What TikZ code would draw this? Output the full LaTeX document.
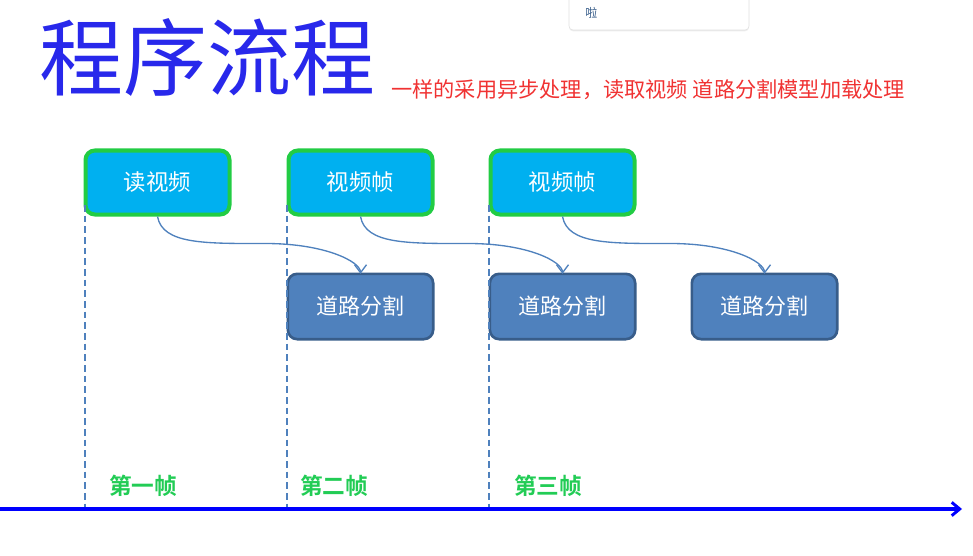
\documentclass[tikz,border=0pt]{standalone}
\usepackage{fontspec}
\setmainfont{Noto Sans CJK SC}
\newfontfamily\cjk{Noto Sans CJK SC}
\newfontfamily\cjkb{Noto Sans CJK SC Bold}
\usetikzlibrary{arrows.meta,shadows}
\definecolor{titleblue}{RGB}{40,40,235}
\definecolor{subred}{RGB}{240,50,50}
\definecolor{topfill}{RGB}{0,176,240}
\definecolor{topedge}{RGB}{34,204,68}
\definecolor{botfill}{RGB}{79,129,189}
\definecolor{botedge}{RGB}{56,93,138}
\definecolor{framegreen}{RGB}{34,204,85}
\tikzset{
  topbox/.style={draw=topedge, line width=3pt, fill=topfill, rounded corners=7pt,
    minimum width=108pt, minimum height=48pt, inner sep=0pt, text=white, font=\cjk\fontsize{16.8}{20}\selectfont},
  botbox/.style={draw=botedge, line width=2pt, fill=botfill, rounded corners=7pt,
    minimum width=109pt, minimum height=49pt, inner sep=0pt, text=white, font=\cjk\fontsize{16.5}{20}\selectfont},
  flow/.style={draw=botfill, line width=1pt, -{Straight Barb[length=6pt,width=9pt]}},
  guide/.style={draw=botfill, line width=1.1pt, dashed, dash pattern=on 5pt off 3pt},
  framelbl/.style={text=framegreen, font=\cjkb\fontsize{17}{20}\selectfont},
}
\begin{document}
\begin{tikzpicture}[x=0.75pt,y=-0.75pt]
\useasboundingbox (0,0) rectangle (973,556);
% popup card
\node[draw=black!12, fill=white, rounded corners=3pt, drop shadow={opacity=0.15,shadow xshift=0pt,shadow yshift=-1pt},
  minimum width=135pt, minimum height=30pt, inner sep=0pt] (card) at (659,10) {};
\node[text=botedge, font=\cjk\fontsize{9}{10}\selectfont, anchor=west, inner sep=0pt] (cardtxt) at (585,13) {啦};
% title
\node[text=titleblue, font=\cjk\fontsize{63}{70}\selectfont, anchor=west, inner sep=0pt] (title) at (39,57) {程序流程};
\node[text=subred, font=\cjk\fontsize{15.9}{18}\selectfont, anchor=west, inner sep=0pt] (sub) at (391,90)
  {一样的采用异步处理，读取视频 道路分割模型加载处理};
% boxes
\node[topbox] (t1) at (157.5,182.5) {读视频};
\node[topbox] (t2) at (360.5,182.5) {视频帧};
\node[topbox] (t3) at (562.5,182.5) {视频帧};
\node[botbox] (b1) at (360.5,306.5) {道路分割};
\node[botbox] (b2) at (562.5,306.5) {道路分割};
\node[botbox] (b3) at (764.5,306.5) {道路分割};
% guide lines
\coordinate (g1a) at (85,205); \coordinate (g1b) at (85,508);
\coordinate (g2a) at (287,205); \coordinate (g2b) at (287,508);
\coordinate (g3a) at (489,205); \coordinate (g3b) at (489,508);
\draw[guide] (g1a) -- (g1b);
\draw[guide] (g2a) -- (g2b);
\draw[guide] (g3a) -- (g3b);
% flows
\draw[flow] (t1.south) .. controls +(5,28) and +(-60,0) .. ++(108,27) .. controls +(60,0) and +(0,-12) .. ([yshift=-1pt]b1.north);
\draw[flow] (t2.south) .. controls +(5,28) and +(-60,0) .. ++(108,27) .. controls +(60,0) and +(0,-12) .. ([yshift=-1pt]b2.north);
\draw[flow] (t3.south) .. controls +(5,28) and +(-60,0) .. ++(108,27) .. controls +(60,0) and +(0,-12) .. ([yshift=-1pt]b3.north);
% frame labels
\node[framelbl] (f1) at (143,486) {第一帧};
\node[framelbl] (f2) at (334,486) {第二帧};
\node[framelbl] (f3) at (548,486) {第三帧};
% time axis
\coordinate (ax0) at (0,509);
\coordinate (ax1) at (962,509);
\draw[blue, line width=2.4pt, -{Straight Barb[length=6pt,width=10pt,line width=2.2pt]}] (ax0) -- (ax1);
\end{tikzpicture}
\end{document}
